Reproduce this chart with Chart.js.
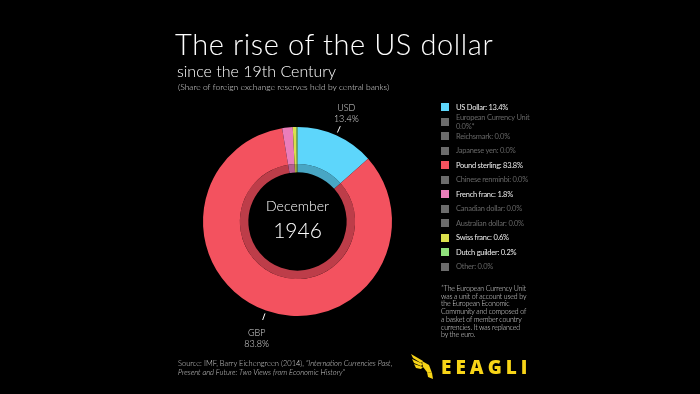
<!DOCTYPE html>
<html>
<head>
<meta charset="utf-8">
<script src="https://cdn.jsdelivr.net/npm/chart.js@4"></script>
<style>
  html, body { margin: 0; padding: 0; background: #000; }
  body { width: 700px; height: 394px; position: relative; overflow: hidden; font-family: 'Lato', sans-serif; color: #fff; }
  #myChart { position: absolute; left: 0; top: 0; }
  .title { position: absolute; left: 175px; top: 26px; font-size: 29px; font-weight: 300; letter-spacing: 0.6px; white-space: nowrap; }
  .subtitle { position: absolute; left: 177px; top: 61px; font-size: 16px; font-weight: 300; white-space: nowrap; }
  .note { position: absolute; left: 178px; top: 82px; font-size: 8.5px; font-weight: 300; color: #ddd; white-space: nowrap; }
  #legend { position: absolute; left: 441px; top: 100px; margin: 0; padding: 0; list-style: none; }
  #legend li { display: flex; align-items: center; height: 14.5px; font-size: 7.5px; line-height: 9px; letter-spacing: -0.25px; white-space: nowrap; color: #666; }
  #legend li.on { color: #eee; }
  #legend li span { flex: none; width: 8px; height: 8px; margin-right: 7px; }
  .footnote { position: absolute; left: 441px; top: 285px; font-size: 7px; line-height: 7.7px; letter-spacing: -0.15px; color: #ddd; font-weight: 300; white-space: nowrap; }
  .source { position: absolute; left: 178px; top: 359px; font-size: 7.5px; line-height: 9px; color: #ccc; font-weight: 300; white-space: nowrap; }
  .logo { position: absolute; left: 411px; top: 353px; }
  .logo b { position: absolute; left: 30px; top: 1px; font-size: 19px; font-weight: 800; letter-spacing: 4px; color: #f7d417; font-family: 'Open Sans', sans-serif; }
</style>
</head>
<body>
<canvas id="myChart" width="700" height="394"></canvas>
<div class="title">The rise of the US dollar</div>
<div class="subtitle">since the 19th Century</div>
<div class="note">(Share of foreign exchange reserves held by central banks)</div>
<ul id="legend"></ul>
<div class="footnote">*The European Currency Unit<br>was a unit of account used by<br>the European Economic<br>Community and composed of<br>a basket of member country<br>currencies. It was replanced<br>by the euro.</div>
<div class="source">Source: IMF, Barry Eichengreen (2014), <i>"Internation Currencies Past,<br>Present and Future: Two Views from Economic History"</i></div>
<div class="logo">
  <svg width="24" height="28" viewBox="0 0 24 28">
    <g fill="#f7d417">
      <polygon points="0,1 12,8 10,10 2,5"/>
      <polygon points="1,6 12,11 10,13 3,10"/>
      <polygon points="3,11 12,14 10,16 5,15"/>
      <polygon points="11,8 18,12 21,20 16,19 12,14"/>
      <polygon points="16,19 21,20 22,26 17,24"/>
    </g>
  </svg>
  <b>EEAGLI</b>
</div>
<script>
var currencies = ['US Dollar', 'European Currency Unit', 'Reichsmark', 'Japanese yen', 'Pound sterling', 'Chinese renminbi', 'French franc', 'Canadian dollar', 'Australian dollar', 'Swiss franc', 'Dutch guilder', 'Other'];
var codes = ['USD', 'ECU', 'DEM', 'JPY', 'GBP', 'CNY', 'FRF', 'CAD', 'AUD', 'CHF', 'NLG', 'OTH'];
var shares = [13.4, 0.0, 0.0, 0.0, 83.8, 0.0, 1.8, 0.0, 0.0, 0.6, 0.2, 0.0];
var colors = ['#5dd6fb', '#6b6b6b', '#6b6b6b', '#6b6b6b', '#f3525f', '#6b6b6b', '#ea7dba', '#6b6b6b', '#6b6b6b', '#dbe04c', '#8fe07b', '#6b6b6b'];
var innerColors = ['#48a6c4', '#555', '#555', '#555', '#bd3d49', '#555', '#b55f90', '#555', '#555', '#a9ad3a', '#6eae5f', '#555'];
var labelled = ['USD', 'GBP'];
var period = ['December', '1946'];

// legend built from the same arrays
var legend = document.getElementById('legend');
currencies.forEach(function (name, i) {
    var li = document.createElement('li');
    if (shares[i] > 0) li.className = 'on';
    var box = document.createElement('span');
    box.style.background = colors[i];
    li.appendChild(box);
    var txt = document.createElement('div');
    var value = shares[i].toFixed(1) + '%' + (codes[i] == 'ECU' ? '*' : '');
    if (name.length > 20) {
        txt.appendChild(document.createTextNode(name));
        txt.appendChild(document.createElement('br'));
        txt.appendChild(document.createTextNode(value));
    } else {
        txt.textContent = name + ': ' + value;
    }
    li.appendChild(txt);
    legend.appendChild(li);
});

// center text and outside labels
var donutText = {
    id: 'donutText',
    afterDraw: function (chart) {
        var ctx = chart.ctx;
        var arc = chart.getDatasetMeta(0).data[0];
        var cx = arc.x, cy = arc.y, R = arc.outerRadius;
        ctx.save();
        ctx.fillStyle = '#fff';
        ctx.textAlign = 'center';
        ctx.textBaseline = 'alphabetic';
        ctx.font = '300 14px Lato';
        ctx.fillText(period[0], cx, cy - 11);
        ctx.font = '300 21px Lato';
        ctx.fillText(period[1], cx, cy + 16);

        chart.getDatasetMeta(0).data.forEach(function (el, i) {
            if (labelled.indexOf(codes[i]) < 0) return;
            var a = (el.startAngle + el.endAngle) / 2;
            var x1 = cx + (R + 3) * Math.cos(a), y1 = cy + (R + 3) * Math.sin(a);
            var x2 = cx + (R + 10) * Math.cos(a), y2 = cy + (R + 10) * Math.sin(a);
            ctx.strokeStyle = '#fff';
            ctx.lineWidth = 1;
            ctx.beginPath();
            ctx.moveTo(x1, y1);
            ctx.lineTo(x2, y2);
            ctx.stroke();
            ctx.fillStyle = '#ddd';
            ctx.font = '300 9px Lato';
            var tx = x2 + (Math.cos(a) > 0 ? 6 : -6);
            if (Math.sin(a) < 0) {
                ctx.fillText(codes[i], tx, y2 - 15);
                ctx.fillText(shares[i].toFixed(1) + '%', tx, y2 - 4);
            } else {
                ctx.fillText(codes[i], tx, y2 + 16);
                ctx.fillText(shares[i].toFixed(1) + '%', tx, y2 + 27);
            }
        });
        ctx.restore();
    }
};

var ctx = document.getElementById('myChart').getContext('2d');
var chart = new Chart(ctx, {
    type: 'doughnut',
    data: {
        labels: currencies,
        datasets: [{
            data: shares,
            backgroundColor: colors,
            borderWidth: 0,
            weight: 37
        },
        {
            data: shares,
            backgroundColor: innerColors,
            borderWidth: 0,
            weight: 8.5
        }]
    },
    options: {
        responsive: false,
        animation: false,
        cutout: '52%',
        hoverOffset: 0,
        offset: 0,
        layout: { padding: { left: 203, right: 308, top: 127, bottom: 78 } },
        plugins: {
            legend: { display: false },
            tooltip: { enabled: false }
        },
        events: []
    },
    plugins: [donutText]
});
</script>
</body>
</html>
